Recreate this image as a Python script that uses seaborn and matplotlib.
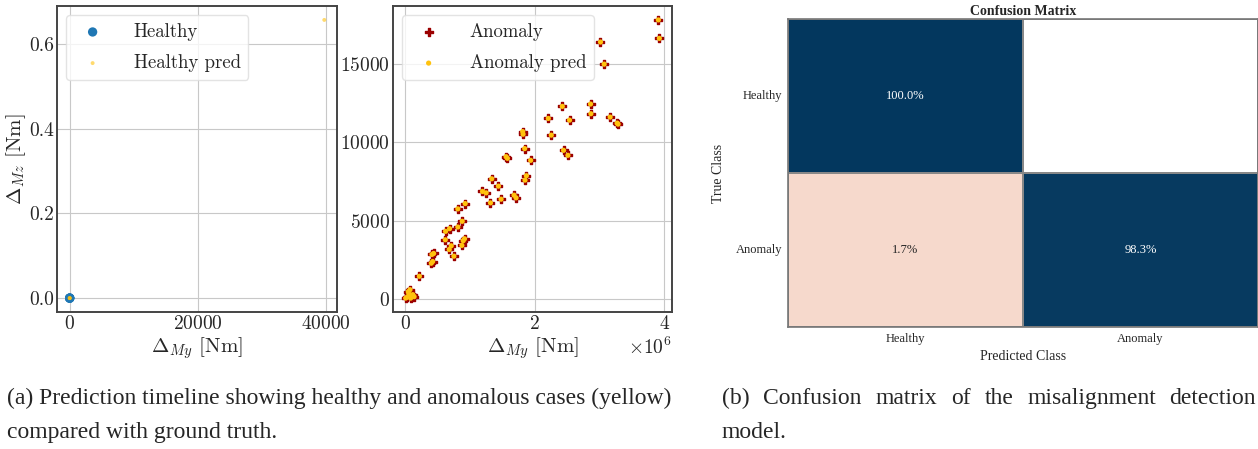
import numpy as np
import pandas as pd
import seaborn as sns
import matplotlib.pyplot as plt
from matplotlib.colors import LinearSegmentedColormap

# ====== DATA ======
healthy_my = [0, 0, 0, 0]
healthy_mz = [0, 0, 0, 0]
healthy_pred_my = [0, 0, 0, 39700]
healthy_pred_mz = [0, 0, 0, 0.657]

# anomaly cases (My in units of 1e6 Nm, Mz in Nm)
anomaly_my = [3.908, 3.923, 3.015, 3.072, 2.862, 2.867, 2.426, 2.210, 2.538, 3.164,
              3.272, 3.287, 2.256, 1.815, 1.821, 1.846, 2.446, 2.513, 1.559, 1.579,
              1.938, 1.872, 1.851, 1.338, 1.441, 1.195, 1.251, 1.682, 1.713, 1.482,
              1.318, 0.928, 0.815, 0.882, 0.815, 0.687, 0.626, 0.621, 0.918, 0.897,
              0.713, 0.877, 0.682, 0.754, 0.441, 0.415, 0.426, 0.405, 0.221,
              0.077, 0.060, 0.036, 0.110, 0.140, 0.010, 0.087, 0.050, 0.120]
anomaly_mz = [17830, 16650, 16415, 15000, 12450, 11830, 12300, 11530, 11420, 11615,
              11230, 11165, 10460, 10690, 10520, 9600, 9490, 9170, 9085, 8980,
              8850, 7865, 7585, 7670, 7200, 6860, 6770, 6620, 6450, 6365,
              6130, 6085, 5745, 4950, 4585, 4480, 4310, 3770, 3835, 3710,
              3385, 3410, 3150, 2720, 2895, 2830, 2380, 2270, 1435,
              580, 320, 107, 215, 130, 40, 40, 450, 260]

classes = ["Healthy", "Anomaly"]
cm_values = [[100.0, 0.0],
             [1.7, 98.3]]

caption_a = ["(a) Prediction timeline showing healthy and anomalous cases (yellow)",
             "compared with ground truth."]
caption_b = ["(b) Confusion matrix of the misalignment detection",
             "model."]

# ====== STYLE ======
sns.set_style("whitegrid", {"axes.edgecolor": "#444444", "grid.color": "#c8c8c8"})
plt.rcParams["font.family"] = ["cmr10", "DejaVu Serif"]
plt.rcParams["mathtext.fontset"] = "cm"
plt.rcParams["axes.formatter.use_mathtext"] = True
plt.rcParams["axes.linewidth"] = 1.4

fig = plt.figure(figsize=(12.58, 4.49), dpi=100)
ax1 = fig.add_axes([0.0453, 0.3051, 0.2226, 0.6815])
ax2 = fig.add_axes([0.3124, 0.3051, 0.2218, 0.6815])
ax3 = fig.add_axes([0.6264, 0.2717, 0.3736, 0.686])

pred_color = "#ffc20e"

# ====== HEALTHY PANEL ======
sns.scatterplot(x=healthy_my, y=healthy_mz, ax=ax1, color="#1f77b4", s=45,
                edgecolor="none", label="Healthy")
sns.scatterplot(x=healthy_pred_my, y=healthy_pred_mz, ax=ax1, color=pred_color, s=8,
                alpha=0.6, edgecolor="none", label="Healthy pred")
ax1.set_xlabel(r"$\Delta_{My}$ [Nm]", fontsize=15, labelpad=2)
ax1.set_ylabel(r"$\Delta_{Mz}$ [Nm]", fontsize=15, labelpad=1)
ax1.set_xticks([0, 20000, 40000])
ax1.set_yticks([0.0, 0.2, 0.4, 0.6])
ax1.set_yticklabels(["0.0", "0.2", "0.4", "0.6"])

# ====== ANOMALY PANEL ======
anom_my = np.array(anomaly_my) * 1e6
sns.scatterplot(x=anom_my, y=anomaly_mz, ax=ax2, color="#9b0000", marker="P", s=40,
                edgecolor="#9b0000", linewidth=1.0, label="Anomaly")
sns.scatterplot(x=anom_my, y=anomaly_mz, ax=ax2, color=pred_color, s=14,
                edgecolor="none", label="Anomaly pred")
ax2.set_xlabel(r"$\Delta_{My}$ [Nm]", fontsize=15, labelpad=2)
ax2.set_ylabel("")
ax2.set_xticks([0, 2e6, 4e6])
ax2.set_yticks([0, 5000, 10000, 15000])
ax2.xaxis.get_offset_text().set_fontsize(14)

for ax in (ax1, ax2):
    ax.tick_params(labelsize=14, length=0, pad=2)
    ax.legend(loc="upper left", fontsize=13.5, handletextpad=1.2, borderpad=0.4,
              labelspacing=0.7, framealpha=0.8, edgecolor="#dddddd")
    for sp in ax.spines.values():
        sp.set_color("#444444")

# ====== CONFUSION MATRIX ======
serif = ["Liberation Serif", "DejaVu Serif"]
cm_df = pd.DataFrame(cm_values, index=classes, columns=classes)
annot = cm_df.map(lambda v: f"{v:.1f}%")
mask = cm_df.values == 0
cmap = LinearSegmentedColormap.from_list("cm", ["#f6d9cc", "#03375e"])
sns.heatmap(cm_df, ax=ax3, mask=mask, annot=annot, fmt="", cmap=cmap, vmin=1.7, vmax=100,
            cbar=False, linewidths=1.2, linecolor="#888888",
            annot_kws={"fontsize": 9, "fontfamily": serif})
ax3.grid(False)
ax3.set_title("Confusion Matrix", fontsize=10, fontweight="bold", fontfamily=serif, pad=3)
ax3.set_xlabel("Predicted Class", fontsize=10, fontfamily=serif, labelpad=4)
ax3.set_ylabel("True Class", fontsize=10, fontfamily=serif, labelpad=8)
ax3.set_xticklabels(classes, fontsize=9, fontfamily=serif)
ax3.set_yticklabels(classes, fontsize=9, fontfamily=serif, rotation=0)
ax3.tick_params(length=0, pad=4)
for sp in ax3.spines.values():
    sp.set_visible(True)
    sp.set_color("#777777")
    sp.set_linewidth(1.2)


# ====== CAPTIONS ======
def caption_line(x0, x1, y, text, justify=False):
    yf = 1 - y / 449
    if not justify:
        fig.text(x0 / 1258, yf, text, fontsize=17, fontfamily=serif, va="baseline")
        return
    # spread the words so the line fills x0..x1, like a justified paragraph
    words = text.split()
    renderer = fig.canvas.get_renderer()
    items = [fig.text(0, yf, w, fontsize=17, fontfamily=serif, va="baseline") for w in words]
    widths = [t.get_window_extent(renderer).width for t in items]
    gap = (x1 - x0 - sum(widths)) / (len(words) - 1)
    x = x0
    for t, w in zip(items, widths):
        t.set_x(x / 1258)
        x += w + gap


caption_line(7, 675, 404, caption_a[0])
caption_line(7, 675, 438, caption_a[1])
caption_line(722, 1256, 404, caption_b[0], justify=True)
caption_line(722, 1256, 438, caption_b[1])

fig.savefig("out.png", dpi=100)
